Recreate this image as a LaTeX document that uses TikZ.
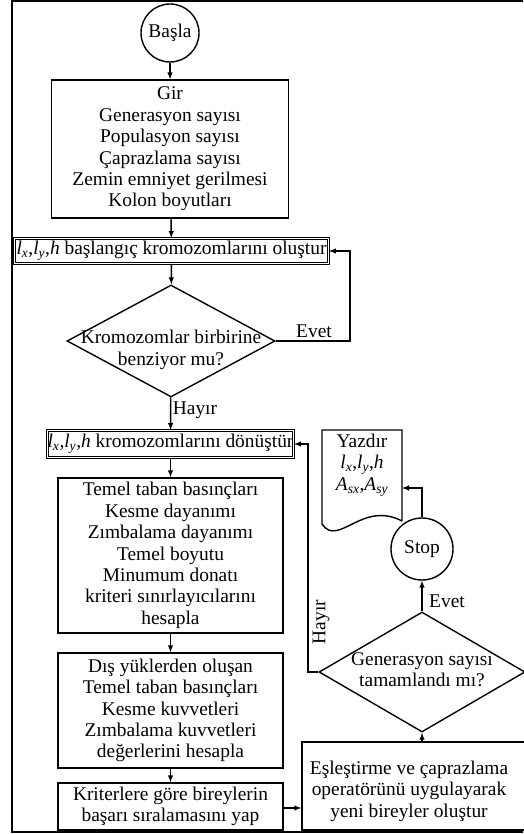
\documentclass[tikz,border=0pt]{standalone}
\usepackage{fontspec}
\setmainfont{Liberation Serif}
\usepackage{tikz}
\usetikzlibrary{shapes,arrows,positioning,calc}

\newcommand{\lxyh}{\textit{l}\textsubscript{\textit{x}},\textit{l}\textsubscript{\textit{y}},\textit{h}}
\newcommand{\asxy}{\textit{A}\textsubscript{\textit{sx}},\textit{A}\textsubscript{\textit{sy}}}

\begin{document}
\begin{tikzpicture}[
    x=1pt, y=-1pt,
    every node/.style={font=\fontsize{19.4}{21.4}\selectfont, align=center, inner sep=0pt},
    terminal/.style={circle, draw, line width=1.4pt, minimum size=#1},
    process/.style={rectangle, draw, line width=1.4pt},
    dprocess/.style={rectangle, draw, line width=0.9pt, double, double distance=1.6pt},
    decision/.style={diamond, draw, line width=1.4pt},
    arrow/.style={-latex, line width=1.4pt}
]
    \useasboundingbox (0,0) rectangle (523,834);
    \draw[line width=2pt] (523,1) -- (12,1) -- (12,832) -- (523,832);

    % left column
    \node[terminal=58pt] (basla) at (170,33) {Başla};
    \node[process, minimum width=237pt, minimum height=138pt] (gir) at (170,149)
        {Gir\\Generasyon sayısı\\Populasyon sayısı\\Çaprazlama sayısı\\Zemin emniyet gerilmesi\\Kolon boyutları};
    \node[dprocess, minimum width=314pt, minimum height=25pt] (olustur) at (171.5,251)
        {\lxyh{} başlangıç kromozomlarını oluştur};
    \node[decision, minimum width=208pt, minimum height=112pt] (benzer) at (171,341) {};
    \node (benzertxt) at (171,350) {Kromozomlar birbirine\\benziyor mu?};
    \node[dprocess, minimum width=246pt, minimum height=27pt] (donustur) at (170.5,444)
        {\lxyh{} kromozomlarını dönüştür};
    \node[process, minimum width=225pt, minimum height=155pt] (temel) at (170.5,555.5)
        {Temel taban basınçları\\Kesme dayanımı\\Zımbalama dayanımı\\Temel boyutu\\Minumum donatı\\kriteri sınırlayıcılarını\\hesapla};
    \node[process, minimum width=225pt, minimum height=115pt] (dis) at (170.5,710.5)
        {Dış yüklerden oluşan\\Temel taban basınçları\\Kesme kuvvetleri\\Zımbalama kuvvetleri\\değerlerini hesapla};
    \node[process, minimum width=225pt, minimum height=47pt] (kriter) at (170.5,806.5)
        {Kriterlere göre bireylerin\\başarı sıralamasını yap};

    % right column
    \node[process, minimum width=230pt, minimum height=88pt] (eslestir) at (417,786) {};
    \node (eslestirtxt) at (409,791) {Eşleştirme ve çaprazlama\\operatörünü uygulayarak\\yeni bireyler oluştur};
    \node[decision, minimum width=206pt, minimum height=120pt] (gensayi) at (422,672) {};
    \node (gensayitxt) at (422,670) {Generasyon sayısı\\tamamlandı mı?};
    \node[terminal=62pt] (stop) at (422,549) {Stop};
    \node (yazdir) at (362,465) {Yazdır\\\lxyh\\\asxy};
    \draw[line width=1.4pt] (402,521) -- (402,430) -- (322,430) -- (322,524)
        .. controls (338,548) and (362,500) .. (402,521);
    \coordinate (yazdirsag) at (402,488);

    % labels
    \node (evet1) at (314,331) {Evet};
    \node (hayir1) at (195,410) {Hayır};
    \node[rotate=90] (hayir2) at (321,622) {Hayır};
    \node (evet2) at (447,601) {Evet};

    % connectors
    \draw[arrow] (basla) -- (gir);
    \draw[arrow] (gir) -- (olustur);
    \draw[arrow] (olustur) -- (benzer);
    \draw[arrow] (benzer.east) -- (350,341) |- (olustur.east);
    \draw[arrow] (benzer) -- (donustur);
    \draw[arrow] (donustur) -- (temel);
    \draw[arrow] (temel) -- (dis);
    \draw[arrow] (dis) -- (kriter);
    \draw[arrow] (kriter.east |- 0,808) -- (eslestir.west |- 0,808);
    \draw[arrow] (eslestir.north -| gensayi) -- (gensayi.south);
    \draw[arrow] (gensayi.west) -- (308,672) |- (donustur.east);
    \draw[arrow] (gensayi.north) -- (stop.south);
    \draw[arrow] (stop.north) |- (yazdirsag);
\end{tikzpicture}
\end{document}
